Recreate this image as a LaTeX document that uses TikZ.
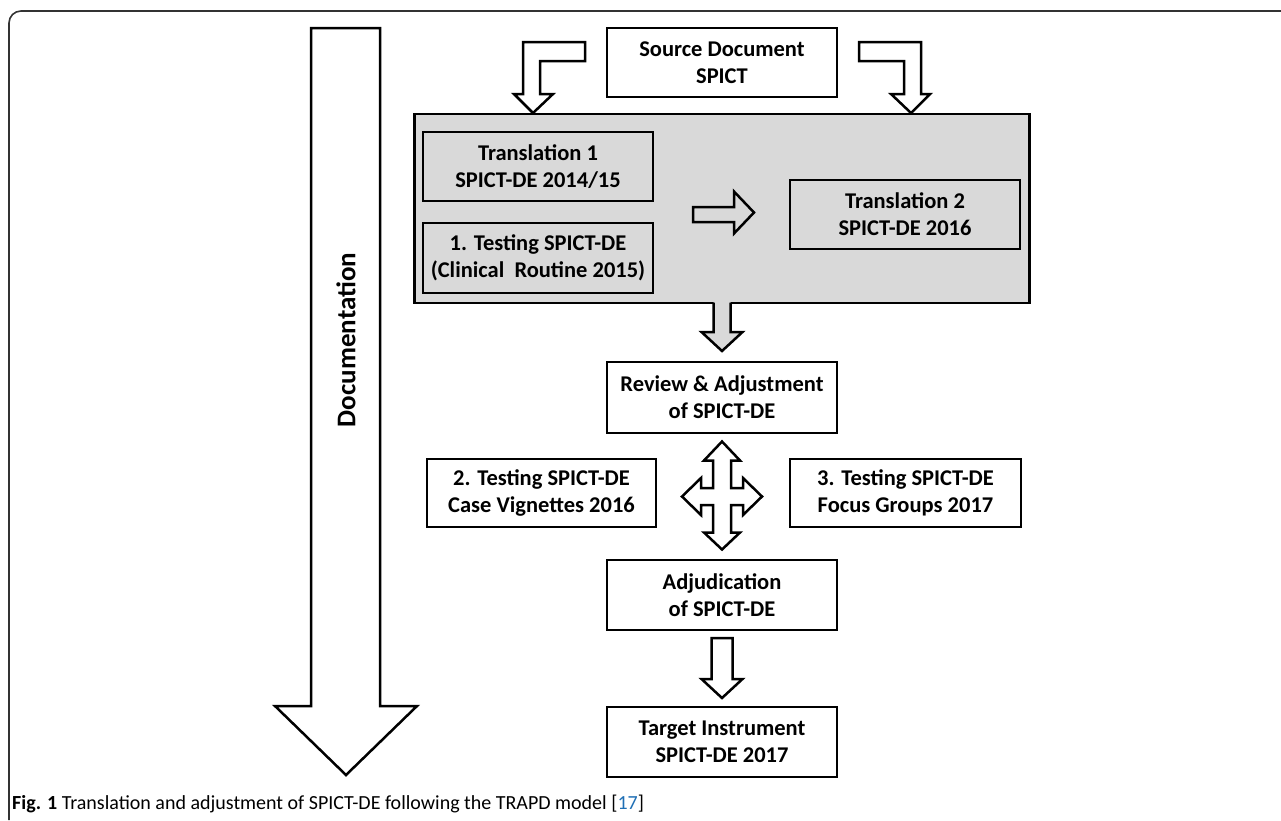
\documentclass[tikz,border=0pt]{standalone}
\usepackage{fontspec}
\setmainfont{Carlito}
\usetikzlibrary{calc}
\definecolor{boxgray}{HTML}{D9D9D9}
\definecolor{refblue}{HTML}{1F6FB5}
\begin{document}
\begin{tikzpicture}[x=1pt,y=-1pt,
  box/.style={draw=black,line width=2.5pt,fill=white,minimum width=230pt,minimum height=69pt,inner sep=0pt,align=center,font=\bfseries\fontsize{22.5}{27}\selectfont},
  ibox/.style={box,fill=none},
  barrow/.style={draw=black,line width=2.5pt,fill=white,line join=miter},
  frameline/.style={draw=black!80,line width=1.6pt}]
\useasboundingbox (0,0) rectangle (1281,820);
% frame
\draw[frameline,rounded corners=12pt] (9,820) -- (9,11) -- (1281,11);
% documentation arrow
\draw[barrow] (311,28) -- (380,28) -- (380,706) -- (417,706) -- (346,775) -- (275,706) -- (311,706) -- cycle;
\node[rotate=90,inner sep=0pt,font=\bfseries\fontsize{27}{32}\selectfont] (doc) at (346,340) {Documentation};
% source
\node[box] (src) at (722,62.5) {Source Document\\SPICT};
% bent arrows
\draw[barrow] (585,42) -- (523,42) -- (523,94) -- (514,94) -- (533,113) -- (553,94) -- (540,94) -- (540,61) -- (585,61) -- cycle;
\draw[barrow] (859,42) -- (921,42) -- (921,94) -- (930,94) -- (911,113) -- (891,94) -- (904,94) -- (904,61) -- (859,61) -- cycle;
% gray group
\node[draw=black,line width=2.5pt,fill=boxgray,minimum width=615pt,minimum height=189pt,inner sep=0pt] (grp) at (722,208.5) {};
\node[ibox] (t1) at (538,166.5) {Translation 1\\SPICT-DE 2014/15};
\node[ibox,minimum height=70pt] (test1) at (538,258) {1. Testing SPICT-DE\\(Clinical~~Routine 2015)};
\node[ibox] (t2) at (905,214.5) {Translation 2\\SPICT-DE 2016};
\draw[barrow,fill=boxgray] (693,207) -- (734,207) -- (734,191.5) -- (754,212.5) -- (734,233.5) -- (734,222) -- (693,222) -- cycle;
% review
\node[box,minimum height=71pt] (rev) at (722,397.5) {Review \& Adjustment\\of SPICT-DE};
% arrow group -> review
\path[fill=boxgray] (713.5,300) -- (713.5,332) -- (701.5,332) -- (722,351) -- (742.5,332) -- (730.5,332) -- (730.5,300) -- cycle;
\draw[line width=2.5pt,line join=miter] (713.5,302.5) -- (713.5,332) -- (701.5,332) -- (722,351) -- (742.5,332) -- (730.5,332) -- (730.5,302.5);
% testing 2 and 3
\node[box,minimum width=229pt,minimum height=68pt] (test2) at (541.5,493) {2. Testing SPICT-DE\\Case Vignettes 2016};
\node[box,minimum width=231pt,minimum height=68pt] (test3) at (905.5,493) {3. Testing SPICT-DE\\Focus Groups 2017};
% four-way arrow
\begin{scope}[shift={(722,496.5)}]
\draw[barrow] (0,-55) -- (18,-36) -- (9,-36) -- (9,-8.5) -- (21,-8.5) -- (21,-18.5) -- (40,0) -- (21,18.5) -- (21,8.5) -- (9,8.5) -- (9,36) -- (18,36) -- (0,53) -- (-18,36) -- (-9,36) -- (-9,8.5) -- (-21,8.5) -- (-21,18.5) -- (-40,0) -- (-21,-18.5) -- (-21,-8.5) -- (-9,-8.5) -- (-9,-36) -- (-18,-36) -- cycle;
\end{scope}
% adjudication
\node[box,minimum height=70pt] (adj) at (722,595) {Adjudication\\of SPICT-DE};
\draw[barrow] (711.5,638) -- (711.5,679) -- (701.5,679) -- (722,698) -- (742.5,679) -- (732.5,679) -- (732.5,638) -- cycle;
\node[box,minimum height=70pt] (tgt) at (722,742) {Target Instrument\\SPICT-DE 2017};
% caption
\node[anchor=base west,inner sep=0pt,font=\fontsize{20}{24}\selectfont] (cap) at (12,809) {\textbf{Fig. 1} Translation and adjustment of SPICT-DE following the TRAPD model [\textcolor{refblue}{17}]};
\end{tikzpicture}
\end{document}
